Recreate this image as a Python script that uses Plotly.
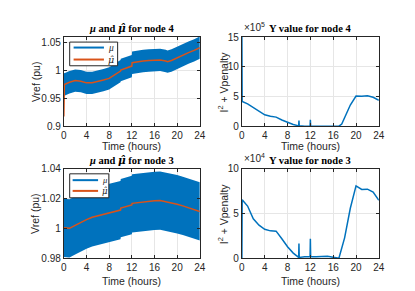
import plotly.graph_objects as go

# ---------------- data ----------------
# node 4: mu band and mu-hat
t_mu4 = [0, 0.1, 1, 2, 3, 4, 5, 6, 7, 8, 9, 10, 10.05, 11, 12, 12.05, 13, 14, 15, 16, 17, 18, 18.3, 19, 20, 21, 22, 23, 24]
muhat4 = [0.918, 0.975, 0.979, 0.982, 0.981, 0.978, 0.978, 0.980, 0.983, 0.986, 0.992, 0.999, 1.001, 1.004, 1.008, 1.014,
          1.016, 1.017, 1.018, 1.019, 1.019, 1.017, 1.016, 1.018, 1.023, 1.027, 1.032, 1.036, 1.041]
mu4_lo = [0.955, 0.955, 0.959, 0.962, 0.961, 0.958, 0.958, 0.960, 0.963, 0.966, 0.972, 0.979, 0.981, 0.984, 0.988, 0.994,
          0.996, 0.997, 0.998, 0.999, 0.999, 0.997, 0.996, 0.998, 1.003, 1.007, 1.012, 1.016, 1.021]
mu4_hi = [0.996, 0.995, 0.999, 1.002, 1.001, 0.998, 0.998, 1.000, 1.003, 1.006, 1.012, 1.019, 1.021, 1.024, 1.028, 1.034,
          1.036, 1.037, 1.038, 1.039, 1.039, 1.037, 1.036, 1.038, 1.043, 1.047, 1.052, 1.056, 1.061]

# node 3: mu band and mu-hat
t_mu3 = [0, 1, 2, 3, 4, 5, 6, 7, 8, 9, 10, 10.05, 11, 12, 12.05, 13, 14, 15, 16, 17, 18, 19, 20, 21, 22, 23, 24]
muhat3 = [1.0005, 1.0002, 1.0022, 1.0042, 1.0060, 1.0076, 1.0085, 1.0094, 1.0102, 1.0112, 1.0124, 1.0137, 1.0147,
          1.0158, 1.0169, 1.0174, 1.0178, 1.0182, 1.0186, 1.0188, 1.0181, 1.0172, 1.0163, 1.0152, 1.0141, 1.0128, 1.0115]
mu3_lo = [0.9810, 0.9807, 0.9827, 0.9847, 0.9865, 0.9881, 0.9890, 0.9899, 0.9907, 0.9917, 0.9929, 0.9942, 0.9952,
          0.9963, 0.9974, 0.9979, 0.9983, 0.9987, 0.9991, 0.9993, 0.9986, 0.9977, 0.9968, 0.9957, 0.9946, 0.9933, 0.9920]
mu3_hi = [1.0200, 1.0197, 1.0217, 1.0237, 1.0255, 1.0271, 1.0280, 1.0289, 1.0297, 1.0307, 1.0319, 1.0332, 1.0342,
          1.0353, 1.0364, 1.0369, 1.0373, 1.0377, 1.0381, 1.0383, 1.0376, 1.0367, 1.0358, 1.0347, 1.0336, 1.0323, 1.0310]

# Y value node 4
t_y4 = [0, 0.05, 1, 2, 3, 4, 5, 6, 7, 8, 9, 9.95, 10, 10.05, 11, 11.95, 12, 12.05, 13, 14, 15, 16, 17, 17.5, 18, 19,
        20, 21, 22, 23, 24]
y4 = [15.5e5, 4.2e5, 3.8e5, 3.2e5, 2.5e5, 1.95e5, 1.73e5, 1.57e5, 1.08e5, 0.65e5, 0.32e5, 0.1e5, 1.0e5, 0.1e5, 0.04e5,
      0.03e5, 1.1e5, 0.03e5, 0.02e5, 0.02e5, 0.02e5, 0.02e5, 0.05e5, 0.4e5, 1.5e5, 3.6e5, 5.1e5, 5.05e5, 5.15e5,
      4.9e5, 4.4e5]

# Y value node 3
t_y3 = [0, 0.05, 1, 2, 3, 4, 5, 6, 7, 8, 9, 9.95, 10, 10.05, 11, 11.95, 12, 12.05, 13, 14, 15, 16, 17, 18, 19, 20,
        21, 22, 23, 24]
y3 = [0, 6.56e4, 5.85e4, 4.43e4, 3.72e4, 3.26e4, 3.08e4, 3.05e4, 2.2e4, 1.31e4, 0.6e4, 0.12e4, 1.67e4, 0.12e4,
      0.18e4, 0.2e4, 2.2e4, 0.2e4, 0.2e4, 0.22e4, 0.24e4, 0.15e4, 0.03e4, 2.3e4, 5.6e4, 8.1e4, 7.7e4, 7.73e4, 7.4e4,
      6.5e4]

x_ticks = [0, 4, 8, 12, 16, 20, 24]

BLUE = "#0072BD"
ORANGE = "#D95319"
AX = "#262626"
GRID = "#e6e6e6"
SANS = "Liberation Sans, Arial, sans-serif"
SERIF = "Liberation Serif, Times New Roman, serif"
MUHAT = "<span style=\"font-family:'DejaVu Serif'\"><i>μ̂</i></span>"

fig = go.Figure()

def band(t, lo, hi, xa, ya):
    fig.add_trace(go.Scatter(x=t, y=hi, mode="lines", line=dict(width=0, color=BLUE),
                             xaxis=xa, yaxis=ya, showlegend=False, hoverinfo="skip"))
    fig.add_trace(go.Scatter(x=t, y=lo, mode="lines", line=dict(width=0, color=BLUE), fill="tonexty",
                             fillcolor=BLUE, xaxis=xa, yaxis=ya, name="μ", showlegend=False, hoverinfo="skip"))

band(t_mu4, mu4_lo, mu4_hi, "x", "y")
fig.add_trace(go.Scatter(x=t_mu4, y=muhat4, mode="lines", line=dict(width=1.5, color=ORANGE),
                         xaxis="x", yaxis="y", name="μ̂", showlegend=False))
fig.add_trace(go.Scatter(x=t_y4, y=y4, mode="lines", line=dict(width=1.5, color=BLUE),
                         xaxis="x2", yaxis="y2", showlegend=False))
band(t_mu3, mu3_lo, mu3_hi, "x3", "y3")
fig.add_trace(go.Scatter(x=t_mu3, y=muhat3, mode="lines", line=dict(width=1.5, color=ORANGE),
                         xaxis="x3", yaxis="y3", name="μ̂", showlegend=False))
fig.add_trace(go.Scatter(x=t_y3, y=y3, mode="lines", line=dict(width=1.5, color=BLUE),
                         xaxis="x4", yaxis="y4", showlegend=False))

W, H = 415, 291
def px(x):
    return x / W
def py(y):
    return (H - y) / H

xl = [px(54), px(193)]
xr = [px(236), px(376)]
yt = [py(117.3), py(24)]
yb = [py(255), py(161.5)]

def xaxis(dom, anchor):
    return dict(domain=dom, anchor=anchor, range=[0, 24], tickvals=x_ticks, ticks="inside", ticklen=3,
                tickcolor=AX, linecolor=AX, linewidth=1, mirror="ticks", showgrid=True, gridcolor=GRID,
                gridwidth=1, zeroline=False, tickfont=dict(family=SANS, size=10, color=AX))

def yaxis(dom, anchor, rng, tv, tt):
    return dict(domain=dom, anchor=anchor, range=rng, tickvals=tv, ticktext=tt, ticks="inside", ticklen=3,
                tickcolor=AX, linecolor=AX, linewidth=1, mirror="ticks", showgrid=True, gridcolor=GRID,
                gridwidth=1, zeroline=False, tickfont=dict(family=SANS, size=10, color=AX))

fig.update_layout(
    width=W, height=H, margin=dict(l=0, r=0, t=0, b=0), paper_bgcolor="white", plot_bgcolor="white",
    xaxis=xaxis(xl, "y"),
    yaxis=yaxis(yt, "x", [0.9, 1.06], [0.9, 0.95, 1, 1.05], ["0.9", "0.95", "1", "1.05"]),
    xaxis2=xaxis(xr, "y2"),
    yaxis2=yaxis(yt, "x2", [0, 15e5], [0, 5e5, 10e5, 15e5], ["0", "5", "10", "15"]),
    xaxis3=xaxis(xl, "y3"),
    yaxis3=yaxis(yb, "x3", [0.98, 1.04], [0.98, 1, 1.02, 1.04], ["0.98", "1", "1.02", "1.04"]),
    xaxis4=xaxis(xr, "y4"),
    yaxis4=yaxis(yb, "x4", [0, 10e4], [0, 5e4, 10e4], ["0", "5", "10"]),
    showlegend=False,
)

def ann(text, x, y, size=10.5, family=SANS, angle=0, xanchor="center", yanchor="middle", color=AX):
    fig.add_annotation(text=text, x=px(x), y=py(y), xref="paper", yref="paper", xanchor=xanchor,
                       yanchor=yanchor, showarrow=False, textangle=angle,
                       font=dict(family=family, size=size, color=color))

# titles
ann("<b><i>μ</i> and " + MUHAT + " for node 4</b>", 123.5, 15, size=10.5, family=SERIF, color="black")
ann("<b>Y value for node 4</b>", 306, 15.5, size=10.5, family=SERIF, color="black")
ann("<b><i>μ</i> and " + MUHAT + " for node 3</b>", 123.5, 152.5, size=10.5, family=SERIF, color="black")
ann("<b>Y value for node 3</b>", 306, 152.5, size=10.5, family=SERIF, color="black")

# axis titles
for yy in (138, 278):
    ann("Time (hours)", 123.5, yy)
    ann("Time (hours)", 306, yy)
ann("Vref (pu)", 25, 70.5, angle=-90)
ann("Vref (pu)", 25, 208, angle=-90)
ann("I<sup>2</sup> + Vpenalty", 216.5, 70.5, angle=-90)
ann("I<sup>2</sup> + Vpenalty", 216.5, 208, angle=-90)

# exponent labels
ann("×10<sup>5</sup>", 236, 22, size=10, xanchor="left", yanchor="bottom")
ann("×10<sup>4</sup>", 236, 159, size=10, xanchor="left", yanchor="bottom")

# manual legends
def legend_box(x0, y0, x1, y1, ys, lx0, lx1, tx, size):
    fig.add_shape(type="rect", xref="paper", yref="paper", x0=px(x0), x1=px(x1), y0=py(y1), y1=py(y0),
                  line=dict(color=AX, width=1), fillcolor="white", layer="above")
    for yy, col, lab in zip(ys, (BLUE, ORANGE), ("<i>μ</i>", MUHAT)):
        fig.add_shape(type="line", xref="paper", yref="paper", x0=px(lx0), x1=px(lx1), y0=py(yy), y1=py(yy),
                      line=dict(color=col, width=2), layer="above")
        ann(lab, tx, yy, size=size, family=SERIF, xanchor="left")

legend_box(60, 29.3, 109, 54, (35, 47.5), 64, 95, 97, 9.5)
legend_box(60, 166.7, 100, 191.7, (173.3, 184.5), 63, 89, 90.5, 8.5)

fig.write_html("out.html")
